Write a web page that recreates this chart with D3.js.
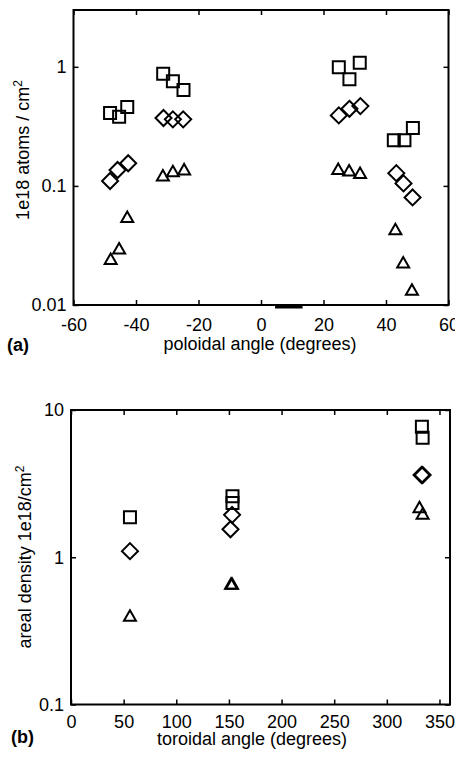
<!DOCTYPE html>
<html>
<head>
<meta charset="utf-8">
<script src="https://cdn.jsdelivr.net/npm/d3@7"></script>
<style>
    body { margin: 0; background: #fff; }
    svg { display: block; font-family: 'Liberation Sans', Arial, sans-serif; }
</style>
</head>
<body>
<svg></svg>
<script>

/*
*   Panel (a): poloidal angle (degrees) vs 1e18 atoms / cm2
*/

const POL_SQ_X = [-48.3, -45.4, -42.8, -31.3, -28.2, -24.8, 24.9, 28.3, 31.6, 42.5, 45.9, 48.6]
const POL_SQ_Y = [0.41, 0.38, 0.46, 0.875, 0.755, 0.64, 0.99, 0.785, 1.08, 0.242, 0.242, 0.307]

const POL_DI_X = [-48.3, -45.9, -42.5, -31.2, -28.2, -24.9, 24.9, 28.3, 31.8, 43.3, 45.6, 48.5]
const POL_DI_Y = [0.110, 0.136, 0.155, 0.372, 0.362, 0.362, 0.391, 0.444, 0.468, 0.128, 0.105, 0.080]

const POL_TRI_X = [-48.1, -45.4, -42.8, -31.4, -28.2, -24.6, 24.7, 28.2, 31.7, 43.0, 45.5, 48.3]
const POL_TRI_Y = [0.0239, 0.0293, 0.0538, 0.120, 0.130, 0.135, 0.136, 0.132, 0.126, 0.0425, 0.0223, 0.0132]

const POL_X_TICKS = [-60, -40, -20, 0, 20, 40, 60]
const POL_Y_TICKS = [0.01, 0.1, 1]
const POL_STRAY_MARK = [4.5, 13.3]


/*
*   Panel (b): toroidal angle (degrees) vs areal density
*/

const TOR_SQ_X = [56, 153.4, 153.4, 333.3, 334]
const TOR_SQ_Y = [1.87, 2.6, 2.34, 7.71, 6.49]

const TOR_DI_X = [56, 153, 151.5, 333, 334]
const TOR_DI_Y = [1.10, 1.94, 1.55, 3.62, 3.62]

const TOR_TRI_X = [56, 152, 153, 331, 334]
const TOR_TRI_Y = [0.395, 0.65, 0.65, 2.15, 1.94]

const TOR_X_TICKS = [0, 50, 100, 150, 200, 250, 300, 350]
const TOR_Y_TICKS = [0.1, 1, 10]


/*
*   Constants
*/

const CANVAS_WIDTH = 455
const CANVAS_HEIGHT = 759
const FONT_SIZE = 18
const TICK_LENGTH = 5
const STROKE = 2

const zip = (xs, ys) => xs.map((x, i) => ({ x, y: ys[i] }))

// plain hyphen for negatives, like the original
const plain = d => String(d)


/*
*   Marker shapes, drawn around (0, 0).
*/

const SHAPES = {
    square: 'M-6,-6H6V6H-6Z',
    diamond: 'M0,-8L8,0L0,8L-8,0Z',
    triangle: 'M0,-6.5L6,4L-6,4Z',
}


/*
*   Draws one panel: frame, mirrored inward ticks, labels and markers.
*/

const drawPanel = (svg, opts) => {

    const { x, y, xTicks, yTicks, series, xTitle, yTitle, letter } = opts
    const [left, right] = x.range()
    const [bottom, top] = y.range()
    const g = svg.append('g')

    const style = sel => {
        sel.select('.domain').remove()
        sel.selectAll('line').attr('stroke', '#000').attr('stroke-width', 1.5)
        sel.selectAll('text').attr('fill', '#000').style('font-size', FONT_SIZE + 'px').attr('font-family', null)
    }

    g.append('g')
    .attr('transform', `translate(0,${bottom})`)
    .call(d3.axisBottom(x).tickValues(xTicks).tickSizeInner(-TICK_LENGTH).tickSizeOuter(0).tickPadding(opts.xPad).tickFormat(plain))
    .call(style)

    g.append('g')
    .attr('transform', `translate(0,${top})`)
    .call(d3.axisTop(x).tickValues(xTicks).tickSizeInner(-TICK_LENGTH).tickSizeOuter(0).tickFormat(''))
    .call(style)

    g.append('g')
    .attr('transform', `translate(${left},0)`)
    .call(d3.axisLeft(y).tickValues(yTicks).tickSizeInner(-TICK_LENGTH).tickSizeOuter(0).tickPadding(7).tickFormat(plain))
    .call(style)

    g.append('g')
    .attr('transform', `translate(${right},0)`)
    .call(d3.axisRight(y).tickValues(yTicks).tickSizeInner(-TICK_LENGTH).tickSizeOuter(0).tickFormat(''))
    .call(style)

    g.append('rect')
    .attr('x', left)
    .attr('y', top)
    .attr('width', right - left)
    .attr('height', bottom - top)
    .attr('fill', 'none')
    .attr('stroke', '#000')
    .attr('stroke-width', STROKE)

    series.forEach(s => {
        g.selectAll(null)
        .data(s.points)
        .enter()
        .append('path')
        .attr('d', SHAPES[s.shape])
        .attr('transform', d => `translate(${x(d.x)},${y(d.y)})`)
        .attr('fill', 'none')
        .attr('stroke', '#000')
        .attr('stroke-width', STROKE)
    })

    g.append('text')
    .attr('x', opts.xTitleX)
    .attr('y', opts.xTitleY)
    .attr('text-anchor', 'middle')
    .style('font-size', FONT_SIZE + 'px')
    .text(xTitle)

    const yt = g.append('text')
    .attr('transform', `translate(${opts.yTitleX},${opts.yTitleY}) rotate(-90)`)
    .attr('text-anchor', 'middle')
    .style('font-size', FONT_SIZE + 'px')
    yt.append('tspan').text(yTitle)
    yt.append('tspan').attr('dy', -7).style('font-size', '12px').text('2')

    g.append('text')
    .attr('x', opts.letterX)
    .attr('y', opts.letterY)
    .attr('font-weight', 'bold')
    .style('font-size', FONT_SIZE + 'px')
    .text(letter)

    return g
}


/*
*   Execution entry point.
*/

const svg = d3.select('svg')
.attr('width', CANVAS_WIDTH)
.attr('height', CANVAS_HEIGHT)

const polX = d3.scaleLinear([-60, 60], [73.5, 448.5])
const polY = d3.scaleLog([0.01, 3], [305, 10])

const panelA = drawPanel(svg, {
    x: polX,
    y: polY,
    xTicks: POL_X_TICKS,
    yTicks: POL_Y_TICKS,
    xPad: 13,
    series: [
        { shape: 'square', points: zip(POL_SQ_X, POL_SQ_Y) },
        { shape: 'diamond', points: zip(POL_DI_X, POL_DI_Y) },
        { shape: 'triangle', points: zip(POL_TRI_X, POL_TRI_Y) },
    ],
    xTitle: 'poloidal angle (degrees)',
    xTitleX: 260, xTitleY: 350,
    yTitle: '1e18 atoms / cm',
    yTitleX: 29, yTitleY: 150,
    letter: '(a)', letterX: 7, letterY: 351,
})

// small stray bar just under the axis in the original
panelA.append('rect')
.attr('x', polX(POL_STRAY_MARK[0]))
.attr('width', polX(POL_STRAY_MARK[1]) - polX(POL_STRAY_MARK[0]))
.attr('y', 306)
.attr('height', 2.5)
.attr('fill', '#000')

const torX = d3.scaleLinear([0, 360], [71, 450])
const torY = d3.scaleLog([0.1, 10], [704.5, 410])

drawPanel(svg, {
    x: torX,
    y: torY,
    xTicks: TOR_X_TICKS,
    yTicks: TOR_Y_TICKS,
    xPad: 11,
    series: [
        { shape: 'square', points: zip(TOR_SQ_X, TOR_SQ_Y) },
        { shape: 'diamond', points: zip(TOR_DI_X, TOR_DI_Y) },
        { shape: 'triangle', points: zip(TOR_TRI_X, TOR_TRI_Y) },
    ],
    xTitle: 'toroidal angle (degrees)',
    xTitleX: 252, xTitleY: 745,
    yTitle: 'areal density 1e18/cm',
    yTitleX: 31, yTitleY: 557,
    letter: '(b)', letterX: 11, letterY: 743,
})

</script>
</body>
</html>
